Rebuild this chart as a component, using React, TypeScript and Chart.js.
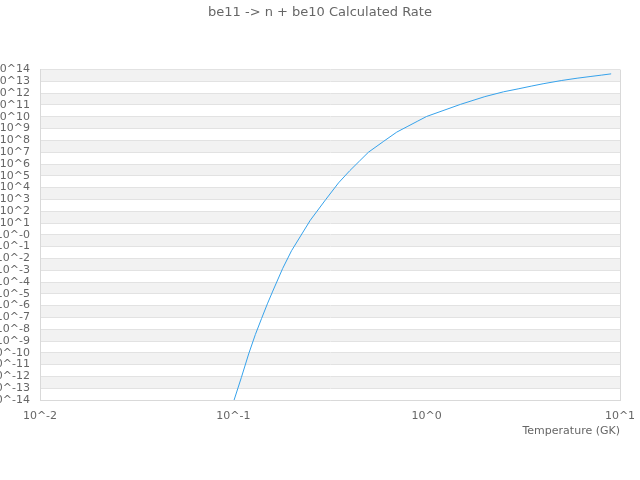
import React, { useEffect, useRef } from "react";
import { Chart, registerables } from "chart.js";

Chart.register(...registerables);

const chartTitle = "be11 -> n + be10 Calculated Rate";
const xAxisTitle = "Temperature (GK)";

// Temperature grid (GK)
const temperatures = [
  0.1, 0.11, 0.12, 0.13, 0.14, 0.15, 0.16, 0.18, 0.2, 0.25, 0.3, 0.35, 0.4,
  0.45, 0.5, 0.6, 0.7, 0.8, 0.9, 1, 1.5, 2, 2.5, 3, 3.5, 4, 5, 6, 7, 8, 9,
];

// log10 of the calculated rate at each temperature
const logRates = [
  -14.2, -12.1, -10.1, -8.45, -7.09, -5.85, -4.77, -2.85, -1.35, 1.23, 2.97,
  4.4, 5.43, 6.26, 7.0, 7.93, 8.7, 9.2, 9.64, 10.03, 11.06, 11.71, 12.12,
  12.38, 12.61, 12.8, 13.08, 13.27, 13.41, 13.53, 13.64,
];

// axis ranges (decade exponents)
const xMinExp = -2;
const xMaxExp = 1;
const yMinExp = -14;
const yMaxExp = 14;

const TEXT = "#666";
const GRID = "#e2e2e2";
const BORDER = "#d9d9d9";
const BAND = "#f2f2f2";
const LINE = "rgb(54, 162, 235)";

const bandPlugin = {
  id: "bands",
  beforeDraw(chart: any) {
    const { ctx, chartArea, scales } = chart;
    const y = scales.y;
    ctx.save();
    ctx.fillStyle = BAND;
    let i = 0;
    for (let v = yMaxExp; v > yMinExp; v--, i++) {
      if (i % 2 === 0) {
        const top = y.getPixelForValue(v);
        const bot = y.getPixelForValue(v - 1);
        ctx.fillRect(chartArea.left, top, chartArea.right - chartArea.left, bot - top);
      }
    }
    ctx.restore();
  },
  beforeDatasetsDraw(chart: any) {
    const { ctx, chartArea } = chart;
    ctx.save();
    ctx.strokeStyle = BORDER;
    ctx.lineWidth = 1;
    ctx.beginPath();
    ctx.moveTo(Math.round(chartArea.right) + 0.5, chartArea.top);
    ctx.lineTo(Math.round(chartArea.right) + 0.5, chartArea.bottom);
    ctx.stroke();
    ctx.restore();
  },
};

export default function App() {
  const ref = useRef<HTMLCanvasElement | null>(null);

  useEffect(() => {
    document.body.style.margin = "0";
    if (!ref.current) return;
    Chart.defaults.font.family = "'DejaVu Sans', sans-serif";
    const chart = new Chart(ref.current, {
      type: "line",
      data: {
        datasets: [
          {
            label: "rate",
            data: temperatures.map((t, i) => ({ x: Math.log10(t), y: logRates[i] })),
            borderColor: LINE,
            borderWidth: 1,
            pointRadius: 0,
            fill: false,
            tension: 0,
          },
        ],
      },
      options: {
        animation: false,
        responsive: false,
        devicePixelRatio: 1,
        parsing: false,
        layout: { padding: { top: 0, right: 0, bottom: 42, left: 0 } },
        plugins: {
          legend: { display: false },
          tooltip: { enabled: false },
          title: {
            display: true,
            text: chartTitle,
            color: TEXT,
            font: { size: 13, weight: "normal" },
            padding: { top: 5, bottom: 49 },
          },
        },
        scales: {
          x: {
            type: "linear",
            min: xMinExp,
            max: xMaxExp,
            grid: { display: false, drawTicks: false },
            border: { display: true, color: BORDER },
            ticks: {
              stepSize: 1,
              autoSkip: false,
              maxRotation: 0,
              color: TEXT,
              font: { size: 11 },
              padding: 10,
              callback: (value: any) => "10^" + value,
            },
            title: {
              display: true,
              text: xAxisTitle,
              align: "end",
              color: TEXT,
              font: { size: 11 },
              padding: { top: 4, bottom: 0 },
            },
            afterFit: (scale: any) => {
              scale.paddingRight = 20;
              scale.height = 38;
            },
          },
          y: {
            type: "linear",
            min: yMinExp,
            max: yMaxExp,
            grid: { color: GRID, drawTicks: false },
            border: { display: true, color: BORDER },
            ticks: {
              stepSize: 1,
              autoSkip: false,
              color: TEXT,
              font: { size: 11 },
              padding: 10,
              callback: (value: any) => (value === 0 ? "10^-0" : "10^" + value),
            },
            afterFit: (scale: any) => {
              scale.width = 40;
            },
          },
        },
      },
      plugins: [bandPlugin],
    } as any);
    return () => chart.destroy();
  }, []);

  return (
    <div style={{ width: 640, height: 480 }}>
      <canvas ref={ref} width={640} height={480} />
    </div>
  );
}
